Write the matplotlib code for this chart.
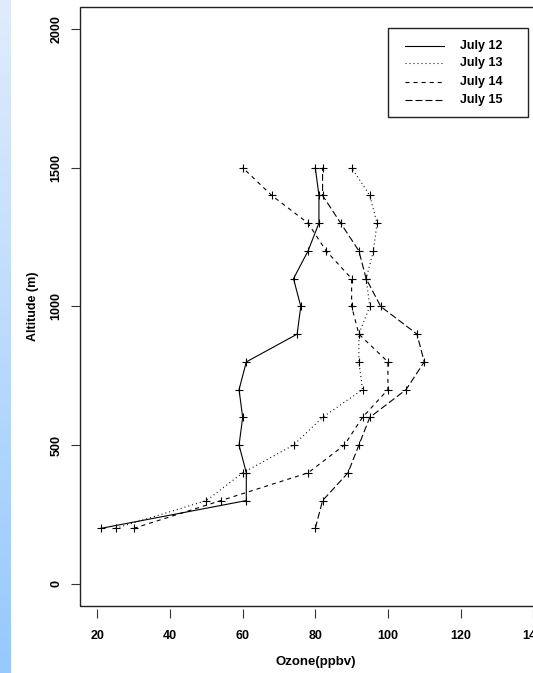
import numpy as np
import matplotlib
matplotlib.use("Agg")
import matplotlib.pyplot as plt
from matplotlib.patches import Rectangle
from matplotlib.lines import Line2D

plt.rcParams["font.family"] = ["Liberation Sans", "DejaVu Sans"]
plt.rcParams["lines.scale_dashes"] = False

# altitude levels (m) and ozone profiles (ppbv)
altitude = [200, 300, 400, 500, 600, 700, 800, 900, 1000, 1100, 1200, 1300, 1400, 1500]
july12 = [21, 61, 61, 59, 60, 59, 61, 75, 76, 74, 78, 81, 81, 80]
july13 = [25, 50, 60, 74, 82, 93, 92, 92, 95, 94, 96, 97, 95, 90]
july14 = [30, 54, 78, 88, 93, 100, 100, 92, 90, 90, 83, 78, 68, 60]
july15 = [80, 82, 89, 92, 95, 105, 110, 108, 98, 94, 92, 87, 82, 82]
labels = ["July 12", "July 13", "July 14", "July 15"]
xticks = [20, 40, 60, 80, 100, 120, 140]
yticks = [0, 500, 1000, 1500, 2000]

W, H = 533, 673
# R line types: solid, dotted "13", dashed "44", longdash "73"  (1 px = 0.72 pt)
styles = ["-", (0, (0.72, 2.16)), (0, (2.9, 2.9)), (0, (5.0, 2.2))]

fig = plt.figure(figsize=(W / 100, H / 100), dpi=100)

# blue gradient strip at the left edge
strip = fig.add_axes([0, 0, 10 / W, 1])
top = np.array([224, 236, 251]) / 255
bot = np.array([150, 201, 255]) / 255
t = np.linspace(0, 1, 256)[:, None]
grad = (top * (1 - t) + bot * t)[:, None, :]
strip.imshow(grad, aspect="auto", extent=[0, 1, 0, 1])
strip.axis("off")

L, R, T, B = 80, 550.6, 6.8, 606
ax = fig.add_axes([L / W, 1 - B / H, (R - L) / W, (B - T) / H])
for vals, ls in zip([july12, july13, july14, july15], styles):
    ax.plot(vals, altitude, color="black", lw=0.8, ls=ls,
            marker="+", ms=6, mew=0.8)

ax.set_xlim(15.2, 144.8)
ax.set_ylim(-80, 2080)
ax.set_xticks(xticks)
ax.set_yticks(yticks)
for s in ax.spines.values():
    s.set_visible(False)
ax.spines["bottom"].set_position(("outward", 2))
ax.add_patch(Rectangle((0, 0), 1, 1, transform=ax.transAxes, fill=False,
                       ec="#222222", lw=1.0, clip_on=False))
ax.tick_params(axis="both", direction="out", length=6.5, width=0.8,
               color="#333333", labelsize=9)
ax.tick_params(axis="x", pad=9)
ax.tick_params(axis="y", pad=6)
for lab in ax.get_yticklabels():
    lab.set_rotation(90)
    lab.set_va("center")
for lab in ax.get_xticklabels() + ax.get_yticklabels():
    lab.set_fontweight("bold")

ax.set_xlabel("Ozone(ppbv)", fontsize=9.5, fontweight="bold", va="center")
ax.xaxis.set_label_coords(0.5, (B - 662) / (B - T))
ax.set_ylabel("Altitude (m)", fontsize=9, fontweight="bold", va="center")
ax.yaxis.set_label_coords((33 - L) / (R - L), 0.5)


# legend drawn in figure pixel positions
def fx(x):
    return x / W


def fy(y):
    return 1 - y / H


fig.patches.append(Rectangle((fx(388), fy(117)), fx(528) - fx(388), fy(28.3) - fy(117),
                             transform=fig.transFigure, fill=False, ec="#222222", lw=1.0))
rows = [46, 63, 81.5, 100]
for y, ls, lab in zip(rows, styles, labels):
    fig.lines.append(Line2D([fx(405), fx(444)], [fy(y), fy(y)], transform=fig.transFigure,
                            color="black", lw=0.8, ls=ls))
    fig.text(fx(460.5), fy(y), lab, fontsize=9, fontweight="bold", va="center", ha="left")

fig.savefig("out.png", dpi=100)
